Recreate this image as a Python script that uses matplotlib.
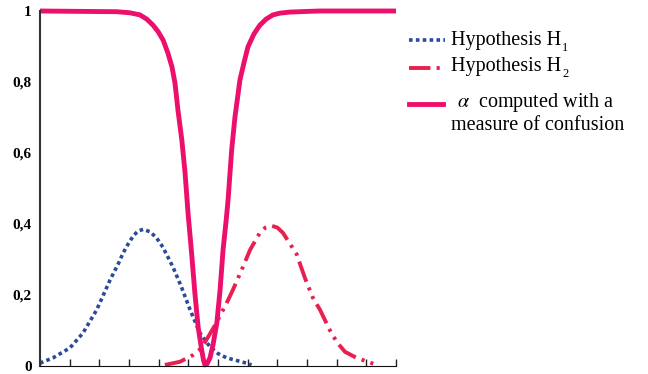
import matplotlib
matplotlib.use("Agg")
import matplotlib.pyplot as plt
from matplotlib.lines import Line2D

plt.rcParams["font.family"] = ["Liberation Serif", "DejaVu Serif"]
plt.rcParams["mathtext.fontset"] = "stix"

# values (x in tick units 0..12)
h1_x = [0, 0.44, 1.01, 1.45, 1.91, 2.36, 2.65, 2.8, 2.98, 3.14, 3.3, 3.48,
        3.71, 3.93, 4.14, 4.48, 4.77, 5.06, 5.39, 5.73, 6.0, 6.29, 6.96, 7.13]
h1_y = [0.008, 0.023, 0.051, 0.093, 0.158, 0.242, 0.29, 0.318, 0.345, 0.366,
        0.38, 0.385, 0.378, 0.361, 0.335, 0.279, 0.222, 0.158, 0.093, 0.054,
        0.035, 0.023, 0.008, 0.003]

h2_x = [4.21, 4.72, 5.16, 5.45, 5.9, 6.29, 6.5, 6.84, 7.08, 7.41, 7.6, 7.81,
        8.0, 8.19, 8.65, 8.93, 9.2, 9.44, 9.77, 10.0, 10.28, 10.67, 11.35]
h2_y = [0.003, 0.012, 0.031, 0.051, 0.115, 0.177, 0.214, 0.279, 0.327, 0.375,
        0.39, 0.395, 0.39, 0.375, 0.315, 0.248, 0.192, 0.158, 0.101, 0.068,
        0.04, 0.023, 0.003]

alpha_x = [0, 2.59, 3.03, 3.37, 3.6, 3.81, 3.98, 4.15, 4.31, 4.45, 4.55, 4.65,
           4.78, 4.89, 4.99, 5.11, 5.22, 5.33, 5.45, 5.51, 5.56, 5.63, 5.73,
           5.83, 5.96, 6.07, 6.17, 6.27, 6.34, 6.46, 6.57, 6.74, 6.88, 7.01,
           7.21, 7.41, 7.62, 7.85, 8.09, 8.43, 9.4, 12]
alpha_y = [1.0, 0.998, 0.995, 0.989, 0.977, 0.96, 0.942, 0.918, 0.882, 0.842,
           0.797, 0.721, 0.637, 0.544, 0.431, 0.318, 0.206, 0.11, 0.045, 0.017,
           0.003, 0.006, 0.023, 0.059, 0.121, 0.214, 0.327, 0.406, 0.468,
           0.608, 0.70, 0.806, 0.856, 0.899, 0.935, 0.96, 0.977, 0.989, 0.994,
           0.997, 1.0, 1.0]

y_ticks = [0, 0.2, 0.4, 0.6, 0.8, 1]
y_labels = ["0", "0,2", "0,4", "0,6", "0,8", "1"]

c_h1 = "#2b4a9b"
c_h2 = "#e8204f"
c_alpha = "#ec0f6c"
ls_h1 = (0, (1, 0.9))
ls_h2 = (0, (5.5, 1.6, 0.8, 1.6, 0.8, 1.6))

fig = plt.figure(figsize=(6.48, 3.74), dpi=100)
ax = fig.add_axes([40 / 648, 8 / 374, 356 / 648, 355 / 374])

ax.plot(h1_x, h1_y, color=c_h1, lw=2.6, linestyle=ls_h1)
ax.plot(h2_x, h2_y, color=c_h2, lw=2.8, linestyle=ls_h2)
ax.plot(alpha_x, alpha_y, color=c_alpha, lw=3.5, clip_on=False,
        solid_capstyle="butt", solid_joinstyle="round")

ax.set_xlim(0, 12)
ax.set_ylim(0, 1)
ax.set_xticks(range(13))
ax.set_xticklabels([])
ax.tick_params(axis="x", direction="in", length=5, width=1, color="#222222")
ax.set_yticks(y_ticks)
ax.set_yticklabels(y_labels, fontsize=11, fontweight="bold")
ax.tick_params(axis="y", length=0, pad=6)
for s in ["top", "right"]:
    ax.spines[s].set_visible(False)
ax.spines["left"].set_color("#333333")
ax.spines["left"].set_linewidth(1.5)
ax.spines["bottom"].set_color("#111111")

# legend drawn by hand to keep the two-line label aligned like the original
W, H = 648, 374
def fx(px):
    return px / W
def fy(py):
    return 1 - py / H

fig.add_artist(Line2D([fx(409), fx(445)], [fy(40), fy(40)], color=c_h1,
                      lw=2.6, linestyle=ls_h1))
fig.add_artist(Line2D([fx(409), fx(445)], [fy(68), fy(68)], color=c_h2,
                      lw=2.8, linestyle=ls_h2))
fig.add_artist(Line2D([fx(409), fx(443)], [fy(104), fy(104)], color=c_alpha,
                      lw=3.5))

renderer = fig.canvas.get_renderer()
for py, sub in [(40, "1"), (66, "2")]:
    t = fig.text(fx(451), fy(py), "Hypothesis H", fontsize=14.5, va="center")
    bb = t.get_window_extent(renderer)
    fig.text(fx(bb.x1 + 1), fy(py + 8), sub, fontsize=9, va="center")
fig.text(fx(457), fy(103), r"$\alpha$  computed with a", fontsize=14.5,
         va="center")
fig.text(fx(451), fy(125), "measure of confusion", fontsize=14.5, va="center")

fig.savefig("out.png", dpi=100)
